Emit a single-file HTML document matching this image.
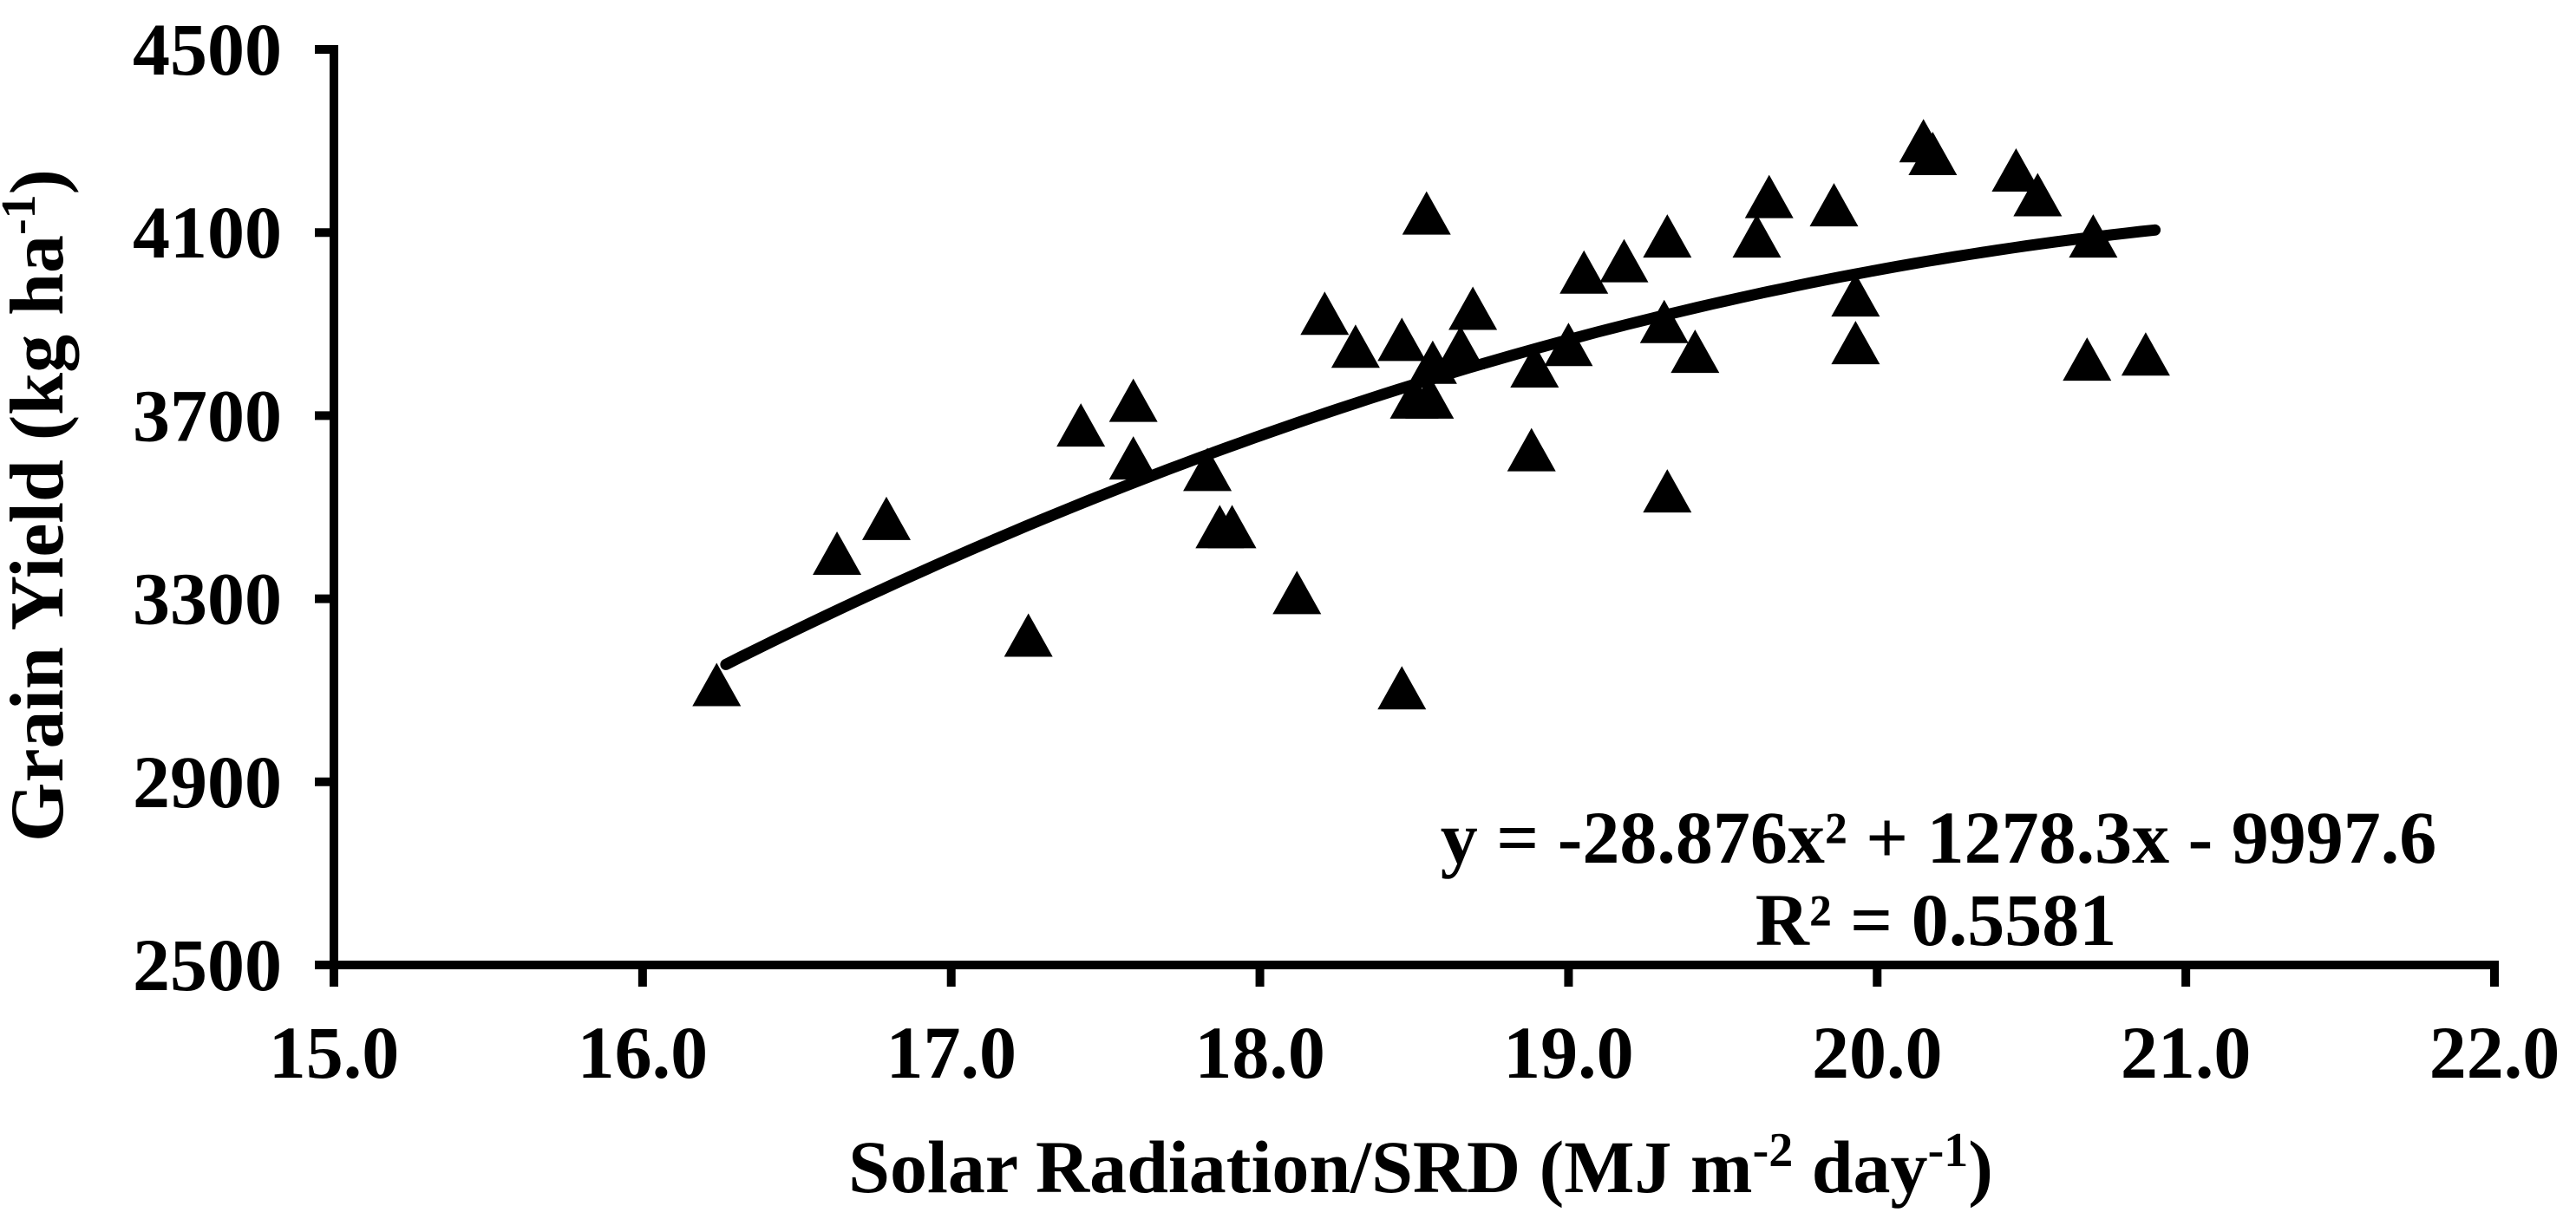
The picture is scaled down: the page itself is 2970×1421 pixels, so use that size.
<!DOCTYPE html>
<html><head><meta charset="utf-8"><style>
html,body{margin:0;padding:0;background:#fff;}
svg{display:block;font-family:"Liberation Serif",serif;font-weight:bold;}
</style></head><body>
<svg id="chart" width="2970" height="1421" viewBox="0 0 2970 1421" xmlns="http://www.w3.org/2000/svg">
<g id="axes"></g><g id="marks"></g>
<text transform="translate(72,583) rotate(-90)" text-anchor="middle" font-size="88">Grain Yield (kg ha<tspan font-size="56" dy="-32">-1</tspan><tspan dy="32">)</tspan></text>
<text x="1638" y="1375" text-anchor="middle" font-size="86">Solar Radiation/SRD (MJ m<tspan font-size="56" dy="-30">-2</tspan><tspan dy="30"> day</tspan><tspan font-size="56" dy="-30">-1</tspan><tspan dy="30">)</tspan></text>
<text x="2235" y="995" text-anchor="middle" font-size="86">y = -28.876x² + 1278.3x - 9997.6</text>
<text x="2232" y="1090" text-anchor="middle" font-size="86">R² = 0.5581</text>
</svg>
<script>
const xTicks=[15,16,17,18,19,20,21,22];
const yTicks=[2500,2900,3300,3700,4100,4500];
const xVals=[16.24,16.63,16.79,17.25,17.42,17.59,17.59,17.83,17.87,17.91,18.12,18.21,18.31,18.46,18.46,18.54,18.50,18.55,18.56,18.65,18.69,18.89,18.88,19.00,19.05,19.18,19.32,19.31,19.32,19.41,19.61,19.65,19.86,19.93,19.93,20.15,20.18,20.45,20.52,20.70,20.68,20.87];
const yVals=[3107,3394,3470,3215,3674,3728,3602,3577,3452,3452,3308,3918,3846,3861,3100,4137,3735,3735,3811,3843,3929,3803,3620,3850,4008,4033,4087,3900,3530,3835,4087,4173,4155,3958,3854,4295,4267,4231,4177,4087,3818,3829];
const coef=[-28.876,1278.3,-9997.6];
const fitRange=[16.27,20.9];
const NS='http://www.w3.org/2000/svg';
const X0=385,X1=2876,Y0=1113,Y1=57;
const sx=v=>X0+(v-15)/(22-15)*(X1-X0);
const sy=v=>Y0-(v-2500)/(4500-2500)*(Y0-Y1);
const axes=document.getElementById('axes'),marks=document.getElementById('marks');
function mk(tag,attrs,parent){const e=document.createElementNS(NS,tag);for(const k in attrs)e.setAttribute(k,attrs[k]);parent.appendChild(e);return e;}
let e=mk('line',{x1:X0,y1:Y1-5,x2:X0,y2:Y0+5,stroke:'#000','stroke-width':10},axes);


e=mk('line',{x1:X0-22,y1:Y0,x2:X1+5,y2:Y0,stroke:'#000','stroke-width':10},axes);


yTicks.forEach(t=>{
 const l=mk('line',{x1:X0-22,y1:sy(t),x2:X0,y2:sy(t),stroke:'#000','stroke-width':10},axes);
 
 
 const tx=mk('text',{x:X0-60,y:sy(t)+29,'text-anchor':'end','font-size':86},axes);
 tx.textContent=t;
 
 
});
xTicks.forEach(t=>{
 const l=mk('line',{x1:sx(t),y1:Y0,x2:sx(t),y2:Y0+25,stroke:'#000','stroke-width':10},axes);
 
 
 const tx=mk('text',{x:sx(t),y:1243,'text-anchor':'middle','font-size':86},axes);
 tx.textContent=t.toFixed(1);
 
 
});
let d='';
for(let i=0;i<=100;i++){const x=fitRange[0]+(fitRange[1]-fitRange[0])*i/100;const y=coef[0]*x*x+coef[1]*x+coef[2];d+=(i?'L':'M')+sx(x).toFixed(1)+' '+sy(y).toFixed(1);}
const p=mk('path',{d:d,fill:'none',stroke:'#000','stroke-width':13,'stroke-linecap':'round'},marks);


xVals.forEach((v,i)=>{
 const cx=sx(v),cy=sy(yVals[i]);
 const t=mk('polygon',{points:`${cx},${cy-28} ${cx-28},${cy+22} ${cx+28},${cy+22}`,fill:'#000'},marks);
 
 
});
</script>
</body></html>
